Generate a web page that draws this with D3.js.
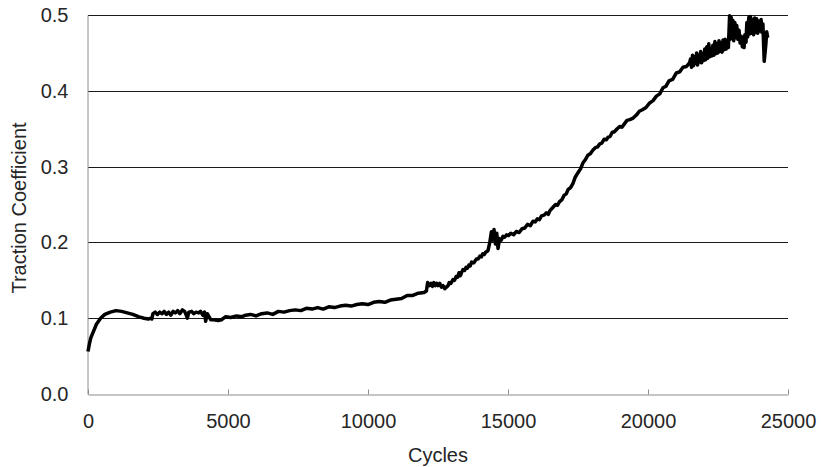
<!DOCTYPE html>
<html>
<head>
<meta charset="utf-8">
<script src="https://cdn.jsdelivr.net/npm/d3@7"></script>
<style>
  body { margin: 0; background: #fff; }
  svg text { font-family: "Liberation Sans", Arial, sans-serif; fill: #262626; }
</style>
</head>
<body>
<svg id="chart"></svg>
<script>
// ---------- data: [cycles, traction coefficient] ----------
var runIn = [
  [0, 0.056], [50, 0.066], [100, 0.074], [200, 0.083], [300, 0.092], [450, 0.100], [600, 0.105],
  [800, 0.108], [1000, 0.110], [1200, 0.109], [1400, 0.107], [1600, 0.105], [1800, 0.102],
  [2000, 0.100], [2150, 0.099], [2250, 0.100], [2280, 0.099]
];
var plateau = [
  [2320, 0.106], [2400, 0.108], [2480, 0.105], [2560, 0.108], [2640, 0.106], [2720, 0.109],
  [2800, 0.105], [2880, 0.108], [2960, 0.104], [3040, 0.109], [3120, 0.107], [3200, 0.110],
  [3280, 0.106], [3371, 0.111], [3450, 0.109], [3520, 0.103], [3550, 0.100], [3600, 0.108],
  [3700, 0.109], [3780, 0.106], [3860, 0.108], [3953, 0.107], [4020, 0.109], [4100, 0.104],
  [4160, 0.108], [4203, 0.096], [4260, 0.106], [4320, 0.102], [4382, 0.098], [4500, 0.098],
  [4650, 0.097], [4775, 0.098], [4918, 0.102]
];
var slowRise = [
  [5100, 0.101], [5300, 0.103], [5500, 0.102], [5632, 0.104], [5800, 0.105], [6000, 0.103],
  [6200, 0.106], [6400, 0.107], [6600, 0.105], [6800, 0.109], [7000, 0.108], [7200, 0.110],
  [7400, 0.111], [7600, 0.110], [7800, 0.113], [8000, 0.112], [8200, 0.114], [8400, 0.112],
  [8600, 0.115], [8800, 0.114], [9000, 0.116], [9200, 0.117], [9400, 0.116], [9600, 0.118],
  [9800, 0.119], [10000, 0.118], [10200, 0.121], [10400, 0.122], [10600, 0.121], [10800, 0.124],
  [11000, 0.125], [11200, 0.126], [11400, 0.130], [11600, 0.130], [11800, 0.133], [12000, 0.134],
  [12085, 0.136]
];
var transition = [
  [12132, 0.147], [12200, 0.143], [12250, 0.146], [12300, 0.142], [12350, 0.147], [12400, 0.143],
  [12450, 0.146], [12500, 0.143], [12560, 0.146], [12620, 0.141], [12680, 0.143], [12740, 0.139],
  [12800, 0.141], [12860, 0.143], [12900, 0.147], [12960, 0.146], [13035, 0.151], [13090, 0.150],
  [13150, 0.155], [13200, 0.154], [13250, 0.160], [13300, 0.156], [13350, 0.161], [13393, 0.164],
  [13450, 0.163], [13500, 0.167], [13550, 0.166], [13600, 0.170], [13650, 0.169], [13700, 0.174],
  [13780, 0.173], [13871, 0.178], [13930, 0.178], [14000, 0.182], [14050, 0.181], [14100, 0.185],
  [14150, 0.184], [14200, 0.187], [14285, 0.189], [14350, 0.200], [14407, 0.214], [14450, 0.203],
  [14500, 0.217], [14550, 0.198], [14600, 0.212], [14643, 0.192], [14700, 0.205], [14760, 0.203],
  [14821, 0.208], [14880, 0.207], [14950, 0.210], [15020, 0.209]
];
var steepRise = [
  [15100, 0.212], [15200, 0.210], [15300, 0.2145], [15400, 0.213], [15500, 0.218], [15600, 0.219],
  [15700, 0.224], [15800, 0.222], [15893, 0.228], [15970, 0.227], [16050, 0.231], [16120, 0.230],
  [16200, 0.235], [16290, 0.236], [16371, 0.239], [16440, 0.237], [16500, 0.242], [16600, 0.246],
  [16700, 0.250], [16770, 0.249], [16846, 0.254], [16920, 0.256], [17000, 0.262], [17080, 0.264],
  [17150, 0.270], [17230, 0.272], [17321, 0.278], [17400, 0.286], [17500, 0.292], [17590, 0.297],
  [17678, 0.305], [17760, 0.309], [17850, 0.315], [17940, 0.317], [18035, 0.322], [18120, 0.325],
  [18200, 0.326], [18280, 0.330], [18350, 0.331], [18430, 0.336], [18514, 0.3355], [18580, 0.339],
  [18650, 0.340], [18720, 0.345], [18800, 0.346], [18900, 0.350], [18989, 0.353], [19070, 0.352],
  [19150, 0.356], [19250, 0.361], [19350, 0.362], [19470, 0.364], [19585, 0.368], [19690, 0.373],
  [19800, 0.375], [19930, 0.378], [20060, 0.384], [20180, 0.387], [20300, 0.393], [20420, 0.396],
  [20535, 0.404], [20640, 0.406], [20750, 0.413], [20880, 0.415], [21012, 0.4235], [21130, 0.425],
  [21250, 0.431], [21370, 0.432], [21487, 0.437]
];
var noisyTop = [
  [21520, 0.442], [21555, 0.431], [21590, 0.447], [21625, 0.433], [21660, 0.445], [21700, 0.436],
  [21735, 0.450], [21770, 0.434], [21805, 0.447], [21840, 0.438], [21880, 0.452], [21915, 0.437],
  [21950, 0.449], [21990, 0.440], [22025, 0.455], [22060, 0.441], [22100, 0.458], [22135, 0.443],
  [22170, 0.462], [22205, 0.445], [22240, 0.456], [22280, 0.446], [22315, 0.460], [22350, 0.447],
  [22390, 0.465], [22425, 0.449], [22460, 0.462], [22500, 0.450], [22535, 0.466], [22570, 0.452],
  [22610, 0.463], [22645, 0.451], [22680, 0.467], [22720, 0.454], [22755, 0.468], [22790, 0.455],
  [22830, 0.464], [22870, 0.457], [22914, 0.499], [22940, 0.468], [22970, 0.497], [23000, 0.472],
  [23030, 0.493], [23060, 0.466], [23100, 0.490], [23130, 0.470], [23170, 0.486], [23210, 0.468],
  [23250, 0.480], [23290, 0.463], [23330, 0.472], [23370, 0.458], [23400, 0.466], [23430, 0.457],
  [23460, 0.474], [23500, 0.464], [23530, 0.490], [23560, 0.471], [23600, 0.497], [23630, 0.475],
  [23660, 0.498], [23700, 0.476], [23740, 0.494], [23770, 0.474], [23810, 0.496], [23850, 0.477],
  [23880, 0.495], [23920, 0.476], [23960, 0.492], [24000, 0.479], [24040, 0.494], [24070, 0.477],
  [24104, 0.488], [24130, 0.460], [24150, 0.439], [24180, 0.450], [24210, 0.462], [24240, 0.478],
  [24275, 0.470]
];
var xTicks = [0, 5000, 10000, 15000, 20000, 25000];
var yTicks = [0.0, 0.1, 0.2, 0.3, 0.4, 0.5];

var width = 824,
    height = 467,
    fontSize = '20px',
    margin = {left: 88, right: 36, top: 15, bottom: 73};

var svg = d3.select('svg#chart')
    .attr('width', width)
    .attr('height', height);

var x = d3.scaleLinear().domain([0, 25000]).range([margin.left, width - margin.right]);
var y = d3.scaleLinear().domain([0, 0.5]).range([height - margin.bottom, margin.top]);

//---------------------gridlines----------
svg.append('g')
  .selectAll('line')
  .data(yTicks.filter(d => d > 0))
  .enter()
  .append('line')
    .attr('x1', x(0))
    .attr('x2', x(25000))
    .attr('y1', d => Math.round(y(d)) + 0.5)
    .attr('y2', d => Math.round(y(d)) + 0.5)
    .attr('stroke', '#1a1a1a')
    .attr('stroke-width', 1);

//---------------------axes----------
var xAxis = d3.axisBottom(x)
    .tickValues(xTicks)
    .tickSize(-5)
    .tickSizeOuter(0)
    .tickPadding(19)
    .tickFormat(d3.format('d'));

var gx = svg.append('g')
    .attr('transform', 'translate(0,' + (Math.round(y(0)) + 0.5) + ')')
    .call(xAxis);
gx.select('.domain').attr('stroke', '#8c8c8c');
gx.selectAll('.tick line').attr('stroke', '#8c8c8c');
gx.selectAll('.tick text').style('font-size', fontSize).attr('fill', '#262626').attr('dy', '0.71em');

var yAxis = d3.axisLeft(y)
    .tickValues(yTicks)
    .tickSize(0)
    .tickSizeOuter(0)
    .tickPadding(19)
    .tickFormat(d3.format('.1f'));

var gy = svg.append('g')
    .attr('transform', 'translate(' + (Math.round(x(0)) - 0.5) + ',0)')
    .call(yAxis);
gy.select('.domain').attr('stroke', '#8c8c8c');
gy.selectAll('.tick text').style('font-size', fontSize).attr('fill', '#262626');

//---------------------axis titles----------
svg.append('text')
    .attr('x', 438)
    .attr('y', 455)
    .attr('dy', '0.35em')
    .style('text-anchor', 'middle')
    .style('font-size', fontSize)
    .text('Cycles');

svg.append('text')
    .attr('transform', 'rotate(-90)')
    .attr('x', -208)
    .attr('y', 19)
    .attr('dy', '0.35em')
    .style('text-anchor', 'middle')
    .style('font-size', fontSize)
    .text('Traction Coefficient');

//---------------------series----------
var points = [].concat(runIn, plateau, slowRise, transition, steepRise, noisyTop);
var line = d3.line()
    .x(d => x(d[0]))
    .y(d => y(d[1]));

svg.append('path')
    .datum(points)
    .attr('d', line)
    .attr('fill', 'none')
    .attr('stroke', '#000')
    .attr('stroke-width', 3.5)
    .attr('stroke-linejoin', 'round');
</script>
</body>
</html>
